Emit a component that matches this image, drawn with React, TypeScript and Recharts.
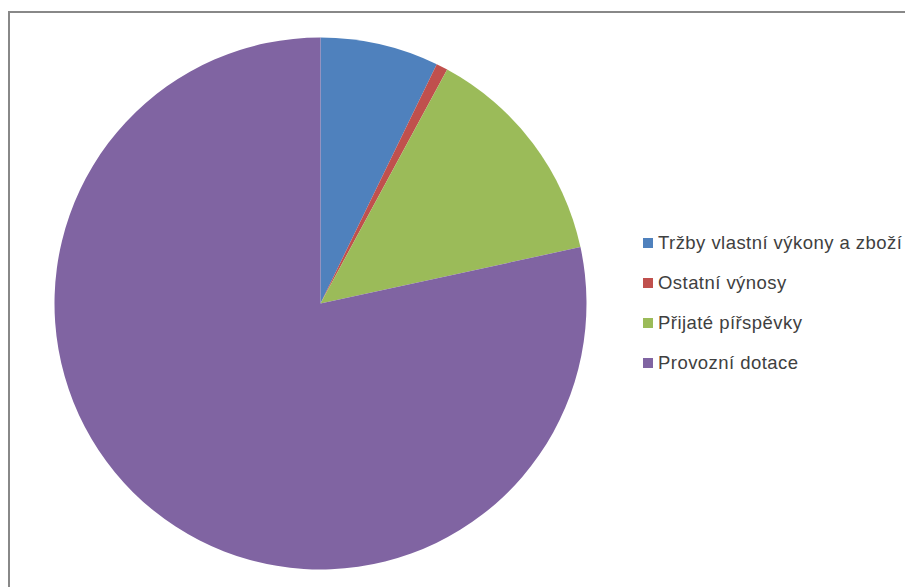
import React from "react";
import { PieChart, Pie, Cell, Legend } from "recharts";

const categories = [
  "Tržby vlastní výkony a zboží",
  "Ostatní výnosy",
  "Přijaté pířspěvky",
  "Provozní dotace",
];
const values = [7.2, 0.7, 13.7, 78.4];
const colors = ["#4F81BD", "#C0504D", "#9BBB59", "#8064A2"];

const data = categories.map((name, i) => ({ name, value: values[i] }));

const LegendContent = () => (
  <div
    style={{
      fontFamily: "'Liberation Sans', Arial, sans-serif",
      fontSize: 18.5,
      letterSpacing: 0.45,
      color: "#404040",
    }}
  >
    {categories.map((label, i) => (
      <div key={label} style={{ display: "flex", alignItems: "center", height: 40 }}>
        <span
          style={{
            display: "inline-block",
            width: 10,
            height: 10,
            background: colors[i],
            marginRight: 5,
          }}
        />
        <span style={{ whiteSpace: "nowrap" }}>{label}</span>
      </div>
    ))}
  </div>
);

export default function App() {
  return (
    <div style={{ position: "relative", width: 905, height: 579 }}>
      <div
        style={{
          position: "absolute",
          left: 0,
          top: 3,
          right: 0,
          bottom: 0,
          borderLeft: "2px solid #888888",
          borderTop: "2px solid #888888",
        }}
      />
      <div style={{ position: "absolute", left: 0, top: 0 }}>
        <PieChart width={905} height={579} margin={{ top: 0, right: 0, bottom: 0, left: 0 }}>
          <Pie
            data={data}
            dataKey="value"
            nameKey="name"
            cx={312.5}
            cy={295.5}
            outerRadius={266}
            startAngle={90}
            endAngle={-270}
            stroke="none"
            isAnimationActive={false}
          >
            {data.map((d, i) => (
              <Cell key={d.name} fill={colors[i]} />
            ))}
          </Pie>
          <Legend
            content={<LegendContent />}
            wrapperStyle={{ position: "absolute", left: 635, top: 215, width: 280 }}
          />
        </PieChart>
      </div>
    </div>
  );
}
